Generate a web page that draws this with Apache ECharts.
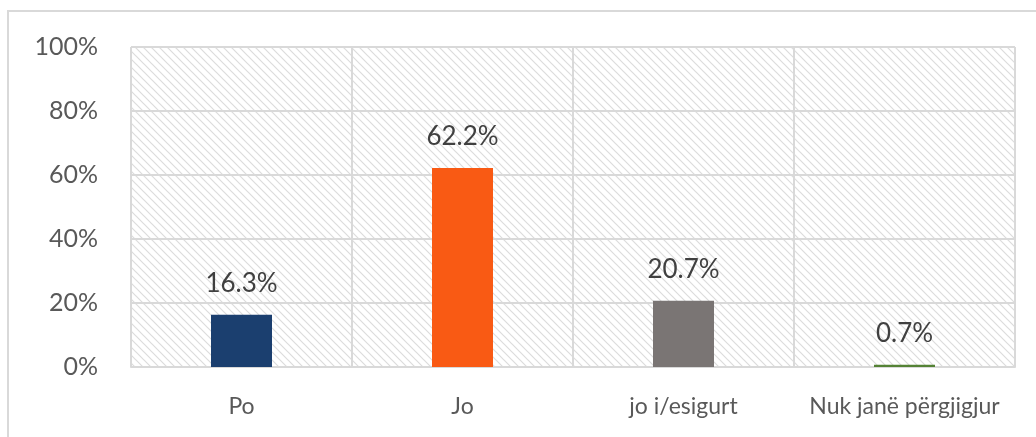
<!DOCTYPE html>
<html>
<head>
<meta charset="utf-8">
<script src="https://cdn.jsdelivr.net/npm/echarts@6/dist/echarts.min.js"></script>
<style>
  html, body { margin: 0; padding: 0; background: #fff; }
  #chart { width: 1036px; height: 437px; }
</style>
</head>
<body>
<div id="chart"></div>
<script>
const categories = ["Po", "Jo", "jo i/esigurt", "Nuk janë përgjigjur"];
const values = [16.3, 62.2, 20.7, 0.7];
const barColors = ["#1b3f6f", "#f95a14", "#7a7574", "#548235"];

// hatch pattern for the plot area
const makeHatch = () => {
  const c = document.createElement("canvas");
  c.width = 8;
  c.height = 8;
  const ctx = c.getContext("2d");
  ctx.fillStyle = "#ffffff";
  ctx.fillRect(0, 0, 8, 8);
  ctx.strokeStyle = "#dcdcdc";
  ctx.lineWidth = 1.2;
  ctx.beginPath();
  ctx.moveTo(-2, -2);
  ctx.lineTo(10, 10);
  ctx.moveTo(-2, 6);
  ctx.lineTo(2, 10);
  ctx.moveTo(6, -2);
  ctx.lineTo(10, 2);
  ctx.stroke();
  return c;
};

const chart = echarts.init(document.getElementById("chart"));
chart.setOption({
  animation: false,
  graphic: [
    {
      type: "rect",
      shape: { x: 8, y: 11, width: 1200, height: 600 },
      style: { fill: "none", stroke: "#d9d9d9", lineWidth: 2 },
      silent: true,
    },
  ],
  grid: {
    left: 131,
    right: 21,
    top: 47,
    bottom: 70,
    show: true,
    borderWidth: 0,
    backgroundColor: { image: makeHatch(), repeat: "repeat" },
  },
  xAxis: {
    type: "category",
    data: categories,
    axisLine: { show: true, lineStyle: { color: "#d9d9d9", width: 2 } },
    axisTick: { show: false },
    splitLine: { show: true, interval: 0, lineStyle: { color: "#d9d9d9", width: 2 } },
    axisLabel: {
      interval: 0,
      margin: 28,
      fontFamily: "Lato",
      fontSize: 23,
      color: "#595959",
    },
  },
  yAxis: {
    type: "value",
    min: 0,
    max: 100,
    interval: 20,
    axisLine: { show: false },
    axisTick: { show: false },
    splitLine: { lineStyle: { color: "#d9d9d9", width: 2 } },
    axisLabel: {
      margin: 33,
      fontFamily: "Lato",
      fontSize: 25,
      color: "#595959",
      formatter: (v) => v + "%",
    },
  },
  series: [
    {
      type: "bar",
      barWidth: 61,
      data: values.map((v, i) => ({ value: v, itemStyle: { color: barColors[i] } })),
      label: {
        show: true,
        position: "top",
        distance: 18,
        fontFamily: "Lato",
        fontSize: 26,
        color: "#404040",
        formatter: (p) => p.value.toFixed(1) + "%",
      },
    },
  ],
});
</script>
</body>
</html>
